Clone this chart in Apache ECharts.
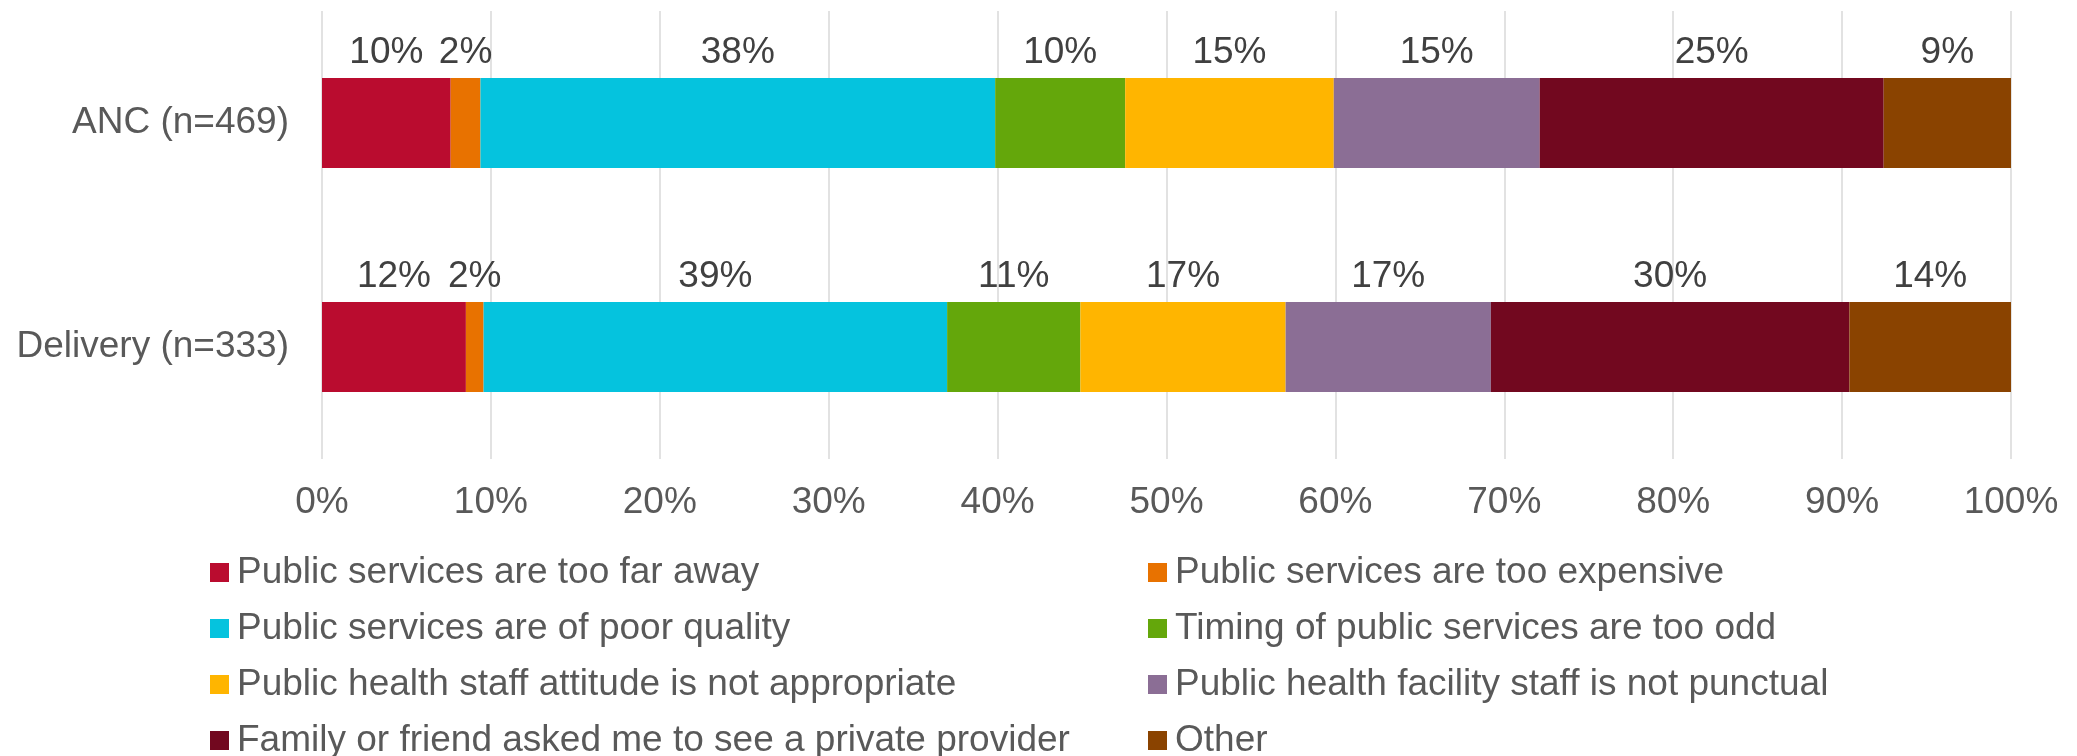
<!DOCTYPE html>
<html>
<head>
<meta charset="utf-8">
<script src="https://cdn.jsdelivr.net/npm/echarts@6/dist/echarts.min.js"></script>
<style>
html,body{margin:0;padding:0;background:#fff;}
#chart{width:2077px;height:756px;}
</style>
</head>
<body>
<div id="chart"></div>
<script>
const categories = ['ANC (n=469)', 'Delivery (n=333)'];
const reasons = [
  'Public services are too far away',
  'Public services are too expensive',
  'Public services are of poor quality',
  'Timing of public services are too odd',
  'Public health staff attitude is not appropriate',
  'Public health facility staff is not punctual',
  'Family or friend asked me to see a private provider',
  'Other'
];
const colors = ['#BA0C2F', '#E87200', '#05C3DE', '#64A70B', '#FFB500', '#8B6E95', '#72081F', '#8A4300'];
// percent of respondents citing each reason (multiple answers allowed)
const ancValues = [9.5, 2.2, 38.0, 9.6, 15.4, 15.2, 25.4, 9.4];
const deliveryValues = [12.2, 1.5, 39.3, 11.3, 17.4, 17.4, 30.4, 13.7];
const xTicks = [0, 10, 20, 30, 40, 50, 60, 70, 80, 90, 100];

const rows = [ancValues, deliveryValues];
const totals = rows.map(r => r.reduce((a, b) => a + b, 0));

const FONT = '"Liberation Sans", Arial, sans-serif';

const series = reasons.map((name, i) => ({
  name: name,
  type: 'bar',
  stack: 'total',
  barWidth: 90,
  itemStyle: { color: colors[i] },
  label: {
    show: true,
    position: 'top',
    distance: 7,
    fontSize: 37,
    fontFamily: FONT,
    color: '#404040',
    formatter: p => Math.round(rows[p.dataIndex][i]) + '%'
  },
  emphasis: { disabled: true },
  data: rows.map((r, k) => r[i] / totals[k] * 100)
}));

const legendCommon = {
  orient: 'vertical',
  top: 554,
  height: 240,
  padding: 0,
  icon: 'rect',
  itemWidth: 19,
  itemHeight: 19,
  itemGap: 19,
  selectedMode: false,
  textStyle: { fontSize: 37, lineHeight: 37, fontFamily: FONT, color: '#595959', padding: [0, 0, 0, 3] }
};

const chart = echarts.init(document.getElementById('chart'), null, { renderer: 'canvas' });
chart.setOption({
  animation: false,
  color: colors,
  grid: { left: 322, right: 66, top: 11, bottom: 297, containLabel: false },
  xAxis: {
    type: 'value',
    min: xTicks[0],
    max: xTicks[xTicks.length - 1],
    interval: xTicks[1] - xTicks[0],
    axisLine: { show: false },
    axisTick: { show: false },
    splitLine: { show: true, lineStyle: { color: '#D9D9D9', width: 1.5 } },
    axisLabel: {
      margin: 25,
      fontSize: 37,
      fontFamily: FONT,
      color: '#595959',
      formatter: '{value}%'
    }
  },
  yAxis: {
    type: 'category',
    inverse: true,
    data: categories,
    axisLine: { show: false },
    axisTick: { show: false },
    axisLabel: { margin: 33, fontSize: 37, fontFamily: FONT, color: '#595959' }
  },
  legend: [
    Object.assign({}, legendCommon, { left: 210, data: reasons.filter((_, i) => i % 2 === 0) }),
    Object.assign({}, legendCommon, { left: 1148, data: reasons.filter((_, i) => i % 2 === 1) })
  ],
  series: series
});
</script>
</body>
</html>
